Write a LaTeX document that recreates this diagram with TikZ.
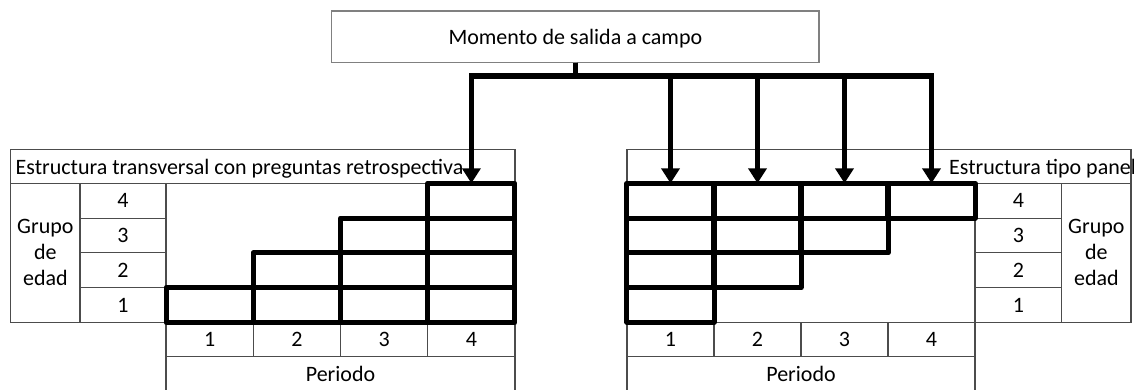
\documentclass[tikz,border=0pt]{standalone}
\usepackage{fontspec}
\setmainfont{Carlito}
\usetikzlibrary{arrows.meta}
\begin{document}
\begin{tikzpicture}[x=1pt,y=-1pt,
  txt/.style={font=\fontsize{22}{26}\selectfont, text=black},
  thinline/.style={draw=black!70, line width=1.1pt},
  rect/.style 2 args={minimum width=#1, minimum height=#2, inner sep=0pt, outer sep=0pt},
  cellbox/.style 2 args={thinline, rect={#1}{#2}, txt},
  thickcell/.style={draw=black, line width=5pt, line join=round, rect={87.2}{34.75}},
  bus/.style={draw=black, line width=5.5pt, line join=miter, -{Triangle[width=18pt,length=15pt]}}
]
\useasboundingbox (0,0) rectangle (1134,390);
\clip (0,0) rectangle (1134,390);

% top box
\node[draw=black!50, line width=1.1pt, rect={487.3}{51.7}, txt, text height=16.3pt, text depth=0pt] (top) at (575.35,36.85) {Momento de salida a campo};

% ---------- left panel ----------
\node[cellbox={504.3}{34}] (LT) at (262.85,166.3) {};
\node[txt, anchor=base west, inner sep=0pt] (LTt) at (15.5,174.3) {Estructura transversal con preguntas retrospectiva};
\node[cellbox={69.3}{139}, align=center] (LG) at (45.35,252.8) {Grupo\\de\\edad};
\foreach \r in {1,...,4} {
  \node[cellbox={86}{34.75}] (LN\r) at (123,{322.3-(\r-0.5)*34.75}) {\r};
}
\foreach \c in {1,...,4} {
  \node[cellbox={87.25}{34.4}] (LP\c) at ({166+(\c-0.5)*87.25},339.5) {\c};
}
\node[cellbox={349}{34.3}] (LPer) at (340.5,373.85) {Periodo};

% ---------- right panel ----------
\node[cellbox={504}{34}] (RT) at (879,166.3) {};
\node[txt, anchor=base west, inner sep=0pt] (RTt) at (949,174.3) {Estructura tipo panel};
\foreach \r in {1,...,4} {
  \node[cellbox={86.7}{34.75}] (RN\r) at (1018.35,{322.3-(\r-0.5)*34.75}) {\r};
}
\node[cellbox={69.3}{139}, align=center] (RG) at (1096.35,252.8) {Grupo\\de\\edad};
\foreach \c in {1,...,4} {
  \node[cellbox={87}{34.4}] (RP\c) at ({627+(\c-0.5)*87},339.5) {\c};
}
\node[cellbox={348}{34.3}] (RPer) at (801,373.85) {Periodo};

% ---------- thick grids ----------
\foreach \c in {1,...,4} {
  \foreach \r in {1,...,\c} {
    \node[thickcell] (L\c\r) at ({166+(\c-0.5)*87.25},{322.3-(\r-0.5)*34.75}) {};
  }
}
\foreach \c in {1,...,4} {
  \foreach \r in {\c,...,4} {
    \node[thickcell] (R\c\r) at ({627+(\c-0.5)*87},{322.3-(\r-0.5)*34.75}) {};
  }
}

% ---------- arrows ----------
\coordinate (busy) at (0,76);
\draw[bus] (top.south) -- (top.south |- busy) -| (L44.north);
\draw[bus] (top.south) -- (top.south |- busy) -| (R14.north);
\draw[bus] (top.south) -- (top.south |- busy) -| (R24.north);
\draw[bus] (top.south) -- (top.south |- busy) -| (R34.north);
\draw[bus] (top.south) -- (top.south |- busy) -| (R44.north);
\end{tikzpicture}
\end{document}
